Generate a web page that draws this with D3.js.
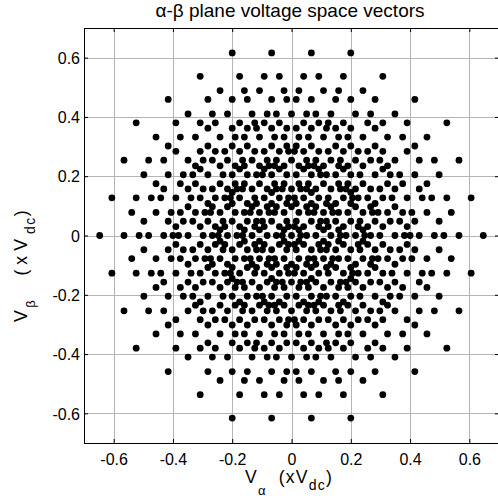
<!DOCTYPE html>
<html><head><meta charset="utf-8">
<script src="https://cdn.jsdelivr.net/npm/d3@7"></script>
<style>
html,body{margin:0;padding:0;background:#fff;overflow:hidden}
svg{display:block}
text{font-family:"Liberation Sans",Arial,Helvetica,sans-serif;fill:#000}
</style></head><body>
<svg id="c" width="498" height="504"></svg>
<script>
// Tick values / labels
const tickValues = [-0.6,-0.4,-0.2,0,0.2,0.4,0.6];
const tickLabels = ["-0.6","-0.4","-0.2","0","0.2","0.4","0.6"];

// Point rows: x-value lists (shared by rows of the same shape)
const x00 = [-0.647,-0.565,-0.514,-0.482,-0.431,-0.4,-0.381,-0.349,-0.298,-0.267,-0.247,-0.216,-0.184,-0.165,-0.133,-0.082,-0.051,-0.031,0,0.031,0.051,0.082,0.133,0.165,0.184,0.216,0.247,0.267,0.298,0.349,0.381,0.4,0.431,0.482,0.514,0.565,0.647];
const x01 = [-0.539,-0.457,-0.406,-0.375,-0.324,-0.292,-0.273,-0.241,-0.19,-0.159,-0.139,-0.108,-0.076,-0.057,-0.025,0.025,0.057,0.076,0.108,0.139,0.159,0.19,0.241,0.273,0.292,0.324,0.375,0.406,0.457,0.539];
const x02 = [-0.431,-0.349,-0.298,-0.267,-0.216,-0.184,-0.165,-0.133,-0.082,-0.051,-0.031,0,0.031,0.051,0.082,0.133,0.165,0.184,0.216,0.267,0.298,0.349,0.431];
const x03 = [-0.324,-0.241,-0.19,-0.159,-0.108,-0.076,-0.057,-0.025,0.025,0.057,0.076,0.108,0.159,0.19,0.241,0.324];
const x10 = [-0.606,-0.524,-0.473,-0.441,-0.39,-0.339,-0.308,-0.257,-0.225,-0.206,-0.175,-0.124,-0.092,-0.041,-0.01,0.01,0.041,0.092,0.124,0.175,0.206,0.225,0.257,0.308,0.339,0.39,0.441,0.473,0.524,0.606];
const x11 = [-0.498,-0.416,-0.365,-0.333,-0.282,-0.231,-0.2,-0.149,-0.118,-0.098,-0.067,-0.016,0.016,0.067,0.098,0.118,0.149,0.2,0.231,0.282,0.333,0.365,0.416,0.498];
const x12 = [-0.39,-0.308,-0.257,-0.225,-0.175,-0.124,-0.092,-0.041,-0.01,0.01,0.041,0.092,0.124,0.175,0.225,0.257,0.308,0.39];
const x13 = [-0.282,-0.2,-0.149,-0.118,-0.067,-0.016,0.016,0.067,0.118,0.149,0.2,0.282];
const x20 = [-0.565,-0.482,-0.431,-0.349,-0.298,-0.267,-0.216,-0.165,-0.133,-0.082,-0.051,0,0.051,0.082,0.133,0.165,0.216,0.267,0.298,0.349,0.431,0.482,0.565];
const x21 = [-0.457,-0.375,-0.324,-0.241,-0.19,-0.159,-0.108,-0.057,-0.025,0.025,0.057,0.108,0.159,0.19,0.241,0.324,0.375,0.457];
const x22 = [-0.349,-0.267,-0.216,-0.133,-0.082,-0.051,0,0.051,0.082,0.133,0.216,0.267,0.349];
const x23 = [-0.241,-0.159,-0.108,-0.025,0.025,0.108,0.159,0.241];
const x30 = [-0.524,-0.39,-0.308,-0.257,-0.175,-0.124,-0.092,-0.041,0.041,0.092,0.124,0.175,0.257,0.308,0.39,0.524];
const x31 = [-0.416,-0.282,-0.2,-0.149,-0.067,-0.016,0.016,0.067,0.149,0.2,0.282,0.416];
const x32 = [-0.308,-0.175,-0.092,-0.041,0.041,0.092,0.175,0.308];
const x33 = [-0.2,-0.067,0.067,0.2];

// V_beta value of each row (top to bottom) and its x list
const rowY = [0.616,0.537,0.489,0.459,0.41,0.38,0.362,0.332,0.302,0.284,0.254,0.235,0.224,0.205,0.175,0.157,0.145,0.127,0.108,0.097,0.078,0.048,0.03,0.019,
  0,
  -0.019,-0.03,-0.048,-0.078,-0.097,-0.108,-0.127,-0.145,-0.157,-0.175,-0.205,-0.224,-0.235,-0.254,-0.284,-0.302,-0.332,-0.362,-0.38,-0.41,-0.459,-0.489,-0.537,-0.616];
const rowX = [x33,x32,x23,x31,x22,x30,x13,x21,x31,x12,x20,x03,x32,x11,x21,x02,x33,x10,x13,x22,x01,x11,x12,x23,
  x00,
  x23,x12,x11,x01,x22,x13,x10,x33,x02,x21,x11,x32,x03,x20,x12,x31,x21,x13,x30,x22,x31,x23,x32,x33];

const points = [];
rowY.forEach((yv, i) => rowX[i].forEach(xv => points.push([xv, yv])));

const svg = d3.select("#c");
const L = 84, R = 499, T = 28, B = 443;
const x = d3.scaleLinear().domain([-0.7, 0.7]).range([L, R]);
const y = d3.scaleLinear().domain([-0.7, 0.7]).range([B, T]);

svg.append("rect").attr("width", 498).attr("height", 504).attr("fill", "#fff");

// grid
const grid = svg.append("g").attr("stroke", "#b4b4b4").attr("stroke-width", 1).attr("shape-rendering", "crispEdges");
grid.selectAll("line.v").data(tickValues).join("line").attr("class", "v")
  .attr("x1", d => Math.round(x(d)) + 0.5).attr("x2", d => Math.round(x(d)) + 0.5)
  .attr("y1", T).attr("y2", B);
grid.selectAll("line.h").data(tickValues).join("line").attr("class", "h")
  .attr("y1", d => Math.round(y(d)) + 0.5).attr("y2", d => Math.round(y(d)) + 0.5)
  .attr("x1", L).attr("x2", R);

// points
svg.append("g").selectAll("circle").data(points).join("circle")
  .attr("cx", d => x(d[0])).attr("cy", d => y(d[1])).attr("r", 3.4).attr("fill", "#000");

// axes
const fmt = d => tickLabels[tickValues.indexOf(d)];
const gx = svg.append("g").attr("transform", `translate(0,${B})`)
  .call(d3.axisBottom(x).tickValues(tickValues).tickFormat(fmt).tickSizeInner(-4).tickSizeOuter(0).tickPadding(11));
const gy = svg.append("g").attr("transform", `translate(${L},0)`)
  .call(d3.axisLeft(y).tickValues(tickValues).tickFormat(fmt).tickSizeInner(-4).tickSizeOuter(0).tickPadding(4));
const gt = svg.append("g").attr("transform", `translate(0,${T})`)
  .call(d3.axisTop(x).tickValues(tickValues).tickFormat("").tickSizeInner(-4).tickSizeOuter(0));
const gr = svg.append("g").attr("transform", `translate(${R},0)`)
  .call(d3.axisRight(y).tickValues(tickValues).tickFormat("").tickSizeInner(-4).tickSizeOuter(0));
[gx, gy, gt, gr].forEach(g => {
  g.select(".domain").remove();
  g.selectAll("line").attr("stroke", "#000");
  g.selectAll("text").attr("font-size", 16).attr("font-family", null).attr("fill", "#000");
});
gy.selectAll("text").attr("dy", "0.36em");

// box
svg.append("rect").attr("x", L + 0.5).attr("y", T + 0.5).attr("width", R - L).attr("height", B - T)
  .attr("fill", "none").attr("stroke", "#000").attr("stroke-width", 1);

// title
svg.append("text").attr("x", 290).attr("y", 17).attr("text-anchor", "middle").attr("font-size", 19)
  .text("\u03b1-\u03b2 plane voltage space vectors");

// x label
const xl = svg.append("text").attr("x", 289).attr("y", 483).attr("text-anchor", "middle")
  .attr("font-size", 17.6).attr("letter-spacing", 1.2);
xl.append("tspan").text("V");
xl.append("tspan").attr("font-size", 13).attr("dy", 12).text("\u03b1");
xl.append("tspan").attr("dy", -12).text("\u00a0\u00a0(xV");
xl.append("tspan").attr("font-size", 14).attr("dy", 7).text("dc");
xl.append("tspan").attr("dy", -7).text(")");

// y label (rotated text is spread out in the reference)
const yl = svg.append("text").attr("transform", "translate(26.7,322) rotate(-90)").attr("text-anchor", "start")
  .attr("font-size", 17.6).attr("letter-spacing", 5);
yl.append("tspan").attr("letter-spacing", 2.5).text("V");
yl.append("tspan").attr("font-size", 13).attr("dy", 8).text("\u03b2");
yl.append("tspan").attr("dy", -8).text("\u00a0\u00a0(xV");
yl.append("tspan").attr("font-size", 14).attr("letter-spacing", 1.5).attr("dy", 8).text("dc");
yl.append("tspan").attr("dy", -8).text(")");
</script>
</body></html>
